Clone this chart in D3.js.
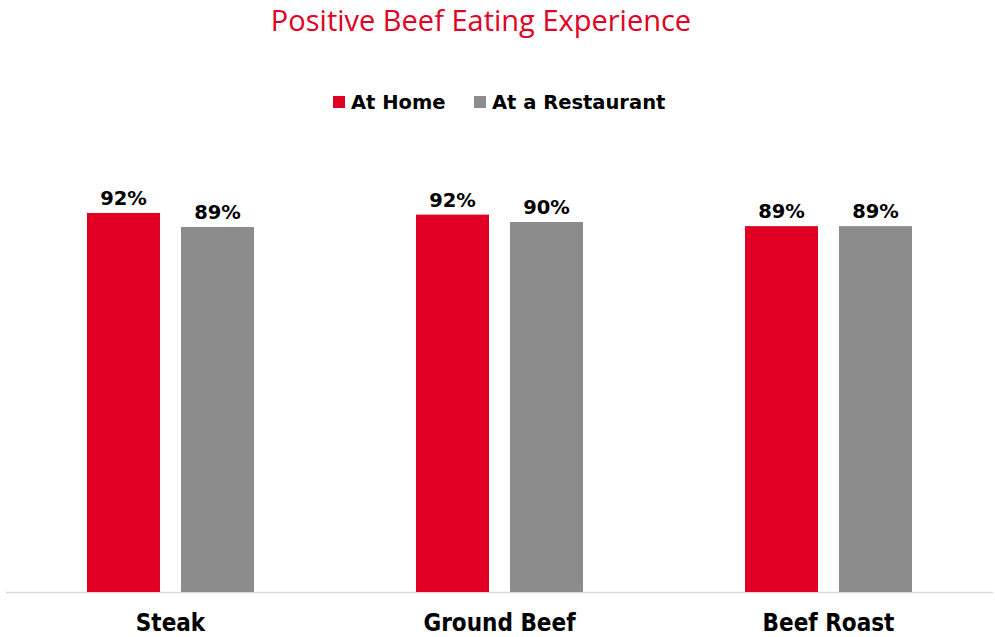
<!DOCTYPE html>
<html><head><meta charset="utf-8">
<script src="https://cdn.jsdelivr.net/npm/d3@7"></script>
<style>body{margin:0;background:#fff}</style>
</head><body>
<svg id="c" width="995" height="637"></svg>
<script>
const categories = ["Steak", "Ground Beef", "Beef Roast"];
const seriesNames = ["At Home", "At a Restaurant"];
const atHome = [92.0, 91.6, 88.8];
const atRestaurant = [88.6, 89.8, 88.8];
const labelsHome = ["92%", "92%", "89%"];
const labelsRestaurant = ["89%", "90%", "89%"];
const colors = ["#e10024", "#8c8c8c"];

const svg = d3.select("#c");
const baseY = 592, topY = 180;
const x0 = d3.scaleBand().domain(categories).range([6, 993]).paddingInner(0).paddingOuter(0);
const x1 = d3.scaleBand().domain(seriesNames).range([81, 81 + 167]).paddingInner(21/94).paddingOuter(0);
const y = d3.scaleLinear().domain([0, 100]).range([baseY, topY]);

svg.append("text").attr("x", 481).attr("y", 31).attr("text-anchor", "middle")
  .attr("font-family", "'Open Sans', Lato, sans-serif").attr("font-size", 29)
  .attr("fill", "#e10024").text("Positive Beef Eating Experience");

// legend
const leg = [{n: seriesNames[0], x: 333, c: colors[0]}, {n: seriesNames[1], x: 474, c: colors[1]}];
leg.forEach(d => {
  svg.append("rect").attr("x", d.x).attr("y", 96).attr("width", 12).attr("height", 12).attr("fill", d.c);
  svg.append("text").attr("x", d.x + 18).attr("y", 109)
    .attr("font-family", "'DejaVu Sans', Verdana, sans-serif").attr("font-weight", "bold")
    .attr("font-size", 19.5).attr("fill", "#000").text(d.n);
});

const data = categories.map((c, i) => ({
  cat: c,
  vals: [{s: seriesNames[0], v: atHome[i], l: labelsHome[i]}, {s: seriesNames[1], v: atRestaurant[i], l: labelsRestaurant[i]}]
}));

// baseline
svg.append("line").attr("x1", 6).attr("x2", 993).attr("y1", baseY + 0.5).attr("y2", baseY + 0.5)
  .attr("stroke", "#d9d9d9").attr("stroke-width", 1.5);

const g = svg.selectAll("g.grp").data(data).join("g").attr("class", "grp")
  .attr("transform", d => `translate(${x0(d.cat)},0)`);
g.selectAll("rect").data(d => d.vals).join("rect")
  .attr("x", d => x1(d.s)).attr("width", x1.bandwidth())
  .attr("y", d => y(d.v)).attr("height", d => baseY - y(d.v))
  .attr("fill", (d, i) => colors[i]);
g.selectAll("text.lab").data(d => d.vals).join("text").attr("class", "lab")
  .attr("x", d => x1(d.s) + x1.bandwidth() / 2).attr("y", d => y(d.v) - 8)
  .attr("text-anchor", "middle").attr("font-family", "'DejaVu Sans', Verdana, sans-serif")
  .attr("font-weight", "bold").attr("font-size", 19.5).attr("fill", "#000").text(d => d.l);

// category axis labels
svg.selectAll("text.cat").data(categories).join("text").attr("class", "cat")
  .attr("x", d => x0(d) + x0.bandwidth() / 2).attr("y", 631)
  .attr("text-anchor", "middle").attr("font-family", "'DejaVu Sans Condensed', 'DejaVu Sans', sans-serif")
  .attr("font-weight", "bold").attr("font-size", 24).attr("fill", "#000").text(d => d);
</script>
</body></html>
